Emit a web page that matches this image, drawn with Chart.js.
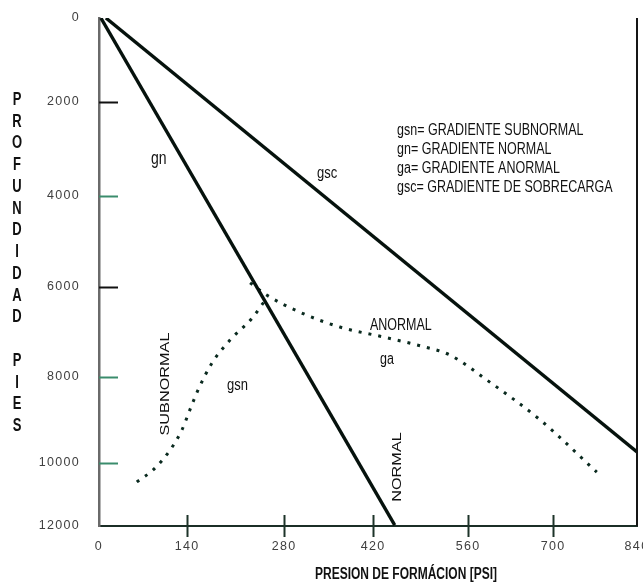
<!DOCTYPE html>
<html lang="es">
<head>
<meta charset="utf-8">
<title>Gradientes de presión de formación</title>
<script src="https://cdn.jsdelivr.net/npm/chart.js@4.4.1/dist/chart.umd.min.js"></script>
<style>
  html, body { margin: 0; padding: 0; background: #ffffff; }
  #wrap { width: 643px; height: 583px; }
</style>
</head>
<body>
<div id="wrap"><canvas id="grafico" width="643" height="583"></canvas></div>
<script>
// ---- datos (presión en PSI, profundidad en pies) ----
const presionTicks = [0, 140, 280, 420, 560, 700, 840];
const profundidadTicks = [0, 2000, 4000, 6000, 8000, 10000, 12000];

// gradiente normal (gn)
const gnPresion = [3, 452];
const gnProfundidad = [0, 11970];

// gradiente de sobrecarga (gsc)
const gscPresion = [11, 840];
const gscProfundidad = [0, 9740];

// gradiente subnormal (gsn)
const gsnPresion = [60, 86, 113, 132, 144, 156, 176, 202, 234, 253];
const gsnProfundidad = [10600, 10220, 9700, 9230, 8770, 8300, 7690, 7180, 6690, 6290];

// gradiente anormal (ga)
const gaPresion = [231, 255, 305, 368, 435, 485, 533, 591, 679, 773];
const gaProfundidad = [5910, 6180, 6560, 6890, 7110, 7290, 7510, 8070, 9000, 10290];

const leyenda = [
  'gsn= GRADIENTE SUBNORMAL',
  'gn= GRADIENTE NORMAL',
  'ga= GRADIENTE ANORMAL',
  'gsc= GRADIENTE DE SOBRECARGA'
];
const tituloY = ['P','R','O','F','U','N','D','I','D','A','D','','P','I','E','S'];
const tituloX = 'PRESION DE FORMÁCION [PSI]';

const pares = (xs, ys) => xs.map((x, i) => ({ x, y: ys[i] }));

// ---- escala lineal por tramos: cada tramo entre marcas tiene su propio largo ----
class SegmentedScale extends Chart.LinearScale {
  _frac(value) {
    const v = this.options.breaks, f = this.options.stops;
    if (!v || !f) return (value - this.min) / (this.max - this.min);
    let i = 1;
    while (i < v.length - 1 && value > v[i]) i++;
    return f[i - 1] + (value - v[i - 1]) * (f[i] - f[i - 1]) / (v[i] - v[i - 1]);
  }
  getPixelForValue(value) {
    if (value === null || value === undefined || isNaN(value)) return NaN;
    return this.getPixelForDecimal(this._frac(value));
  }
  getValueForPixel(pixel) {
    const d = this.getDecimalForPixel(pixel);
    const v = this.options.breaks, f = this.options.stops;
    if (!v || !f) return this.min + d * (this.max - this.min);
    let i = 1;
    while (i < f.length - 1 && d > f[i]) i++;
    return v[i - 1] + (d - f[i - 1]) * (v[i] - v[i - 1]) / (f[i] - f[i - 1]);
  }
}
SegmentedScale.id = 'segmented';
SegmentedScale.defaults = Chart.LinearScale.defaults;
Chart.register(SegmentedScale);

Chart.defaults.font.family = '"Liberation Sans", Arial, sans-serif';

const FUENTE = '"Liberation Sans", Arial, sans-serif';
const ESTIRADO = 1.3;
const TINTA = '#111111';
const VERDE = '#3a8c6c';

function texto(ctx, str, x, y, o = {}) {
  ctx.save();
  ctx.translate(x, y);
  ctx.scale(1, o.stretch ?? ESTIRADO);
  if (o.rotate) ctx.rotate(o.rotate);
  ctx.font = `${o.weight || 'normal'} ${o.size || 12.5}px ${FUENTE}`;
  ctx.textAlign = o.align || 'left';
  ctx.textBaseline = o.baseline || 'alphabetic';
  ctx.fillStyle = o.color || TINTA;
  ctx.fillText(str, 0, 0);
  ctx.restore();
}

// el área del gráfico la fija el relleno del diseño, sin márgenes extra de las escalas
function sinRelleno(s) {
  s.paddingLeft = 0; s.paddingRight = 0; s.paddingTop = 0; s.paddingBottom = 0;
}

// espaciado de las cifras de los ejes
const espaciado = {
  id: 'espaciado',
  beforeDraw(chart) { chart.ctx.letterSpacing = '1.3px'; },
  beforeDatasetsDraw(chart) { chart.ctx.letterSpacing = '0px'; }
};

// marcas de eje, marco derecho y rótulos
const rotulos = {
  id: 'rotulos',
  afterDraw(chart) {
    const ctx = chart.ctx;
    const xs = chart.scales.x, ys = chart.scales.y;
    const { left, right, top, bottom } = chart.chartArea;
    ctx.save();
    ctx.letterSpacing = '0px';

    // marco derecho
    ctx.strokeStyle = '#151515';
    ctx.lineWidth = 2;
    ctx.beginPath();
    ctx.moveTo(right, top);
    ctx.lineTo(right, bottom);
    ctx.stroke();

    // marcas del eje de profundidad (hacia dentro)
    const colorMarcaY = { 2000: '#111111', 4000: VERDE, 6000: '#111111', 8000: VERDE, 10000: VERDE };
    ctx.lineWidth = 2;
    profundidadTicks.slice(1, -1).forEach(v => {
      const py = Math.round(ys.getPixelForValue(v)) + 0.5;
      ctx.strokeStyle = colorMarcaY[v] || VERDE;
      ctx.beginPath();
      ctx.moveTo(left, py);
      ctx.lineTo(left + 19, py);
      ctx.stroke();
    });

    // marcas del eje de presión (cruzan el eje)
    ctx.strokeStyle = '#1d3329';
    presionTicks.slice(1, -1).forEach(v => {
      const px = Math.round(xs.getPixelForValue(v)) + 0.5;
      ctx.beginPath();
      ctx.moveTo(px, bottom - 11);
      ctx.lineTo(px, bottom + 11);
      ctx.stroke();
    });
    ctx.restore();

    // título vertical en letras apiladas
    tituloY.forEach((c, i) => {
      if (c) texto(ctx, c, 17, 100 + i * 21.75, { size: 13, weight: 'bold', align: 'center', baseline: 'middle', stretch: 1.35 });
    });

    // título del eje de presión
    texto(ctx, tituloX, 406, 579, { size: 12, weight: 'bold', align: 'center' });

    // leyenda
    leyenda.forEach((l, i) => texto(ctx, l, 397, 135 + i * 19, { size: 12.5 }));

    // nombres de las curvas
    texto(ctx, 'gn', 151, 164, { size: 14 });
    texto(ctx, 'gsc', 317, 178, { size: 13 });
    texto(ctx, 'ANORMAL', 370, 330, { size: 12.5 });
    texto(ctx, 'ga', 380, 364, { size: 12.5 });
    texto(ctx, 'gsn', 227, 390, { size: 13 });
    texto(ctx, 'SUBNORMAL', 166, 384, { size: 12.5, rotate: -Math.PI / 2, align: 'center', baseline: 'middle' });
    texto(ctx, 'NORMAL', 398, 467, { size: 12.5, rotate: -Math.PI / 2, align: 'center', baseline: 'middle' });
  }
};

const recta = { borderColor: '#06120d', borderWidth: 3.4, pointRadius: 0, showLine: true, fill: false };
const punteada = {
  borderColor: '#0a2a1f', borderWidth: 3, borderDash: [3, 7], borderCapStyle: 'butt',
  pointRadius: 0, showLine: true, fill: false, cubicInterpolationMode: 'monotone'
};

new Chart(document.getElementById('grafico'), {
  type: 'scatter',
  data: {
    datasets: [
      { label: 'gn', data: pares(gnPresion, gnProfundidad), ...recta },
      { label: 'gsc', data: pares(gscPresion, gscProfundidad), ...recta },
      { label: 'gsn', data: pares(gsnPresion, gsnProfundidad), ...punteada },
      { label: 'ga', data: pares(gaPresion, gaProfundidad), ...punteada }
    ]
  },
  options: {
    responsive: false,
    animation: false,
    devicePixelRatio: 1,
    layout: { autoPadding: false, padding: { left: 0, top: 18, right: 6, bottom: 0 } },
    plugins: { legend: { display: false }, tooltip: { enabled: false }, title: { display: false } },
    scales: {
      x: {
        type: 'segmented',
        position: 'bottom',
        min: 0, max: 840,
        breaks: presionTicks,
        stops: [0, 0.1636, 0.3439, 0.5093, 0.6859, 0.8439, 1],
        afterBuildTicks: s => { s.ticks = presionTicks.map(value => ({ value })); },
        afterFit: s => { s.height = 57; sinRelleno(s); },
        grid: { drawOnChartArea: false, drawTicks: false },
        border: { display: true, color: '#1b2e26', width: 2 },
        ticks: { padding: 13, color: '#404040', font: { size: 12.5 }, maxRotation: 0, autoSkip: false, callback: v => String(v) }
      },
      y: {
        type: 'segmented',
        position: 'left',
        reverse: true,
        min: 0, max: 12000,
        breaks: profundidadTicks,
        stops: [0, 0.1654, 0.3504, 0.5295, 0.7067, 0.8760, 1],
        afterBuildTicks: s => { s.ticks = profundidadTicks.map(value => ({ value })); },
        afterFit: s => { s.width = 99; sinRelleno(s); },
        grid: { drawOnChartArea: false, drawTicks: false },
        border: { display: true, color: '#6a6a6a', width: 2.5 },
        ticks: { padding: 19, color: '#404040', font: { size: 12.5 }, autoSkip: false, callback: v => String(v) }
      }
    }
  },
  plugins: [espaciado, rotulos]
});
</script>
</body>
</html>
